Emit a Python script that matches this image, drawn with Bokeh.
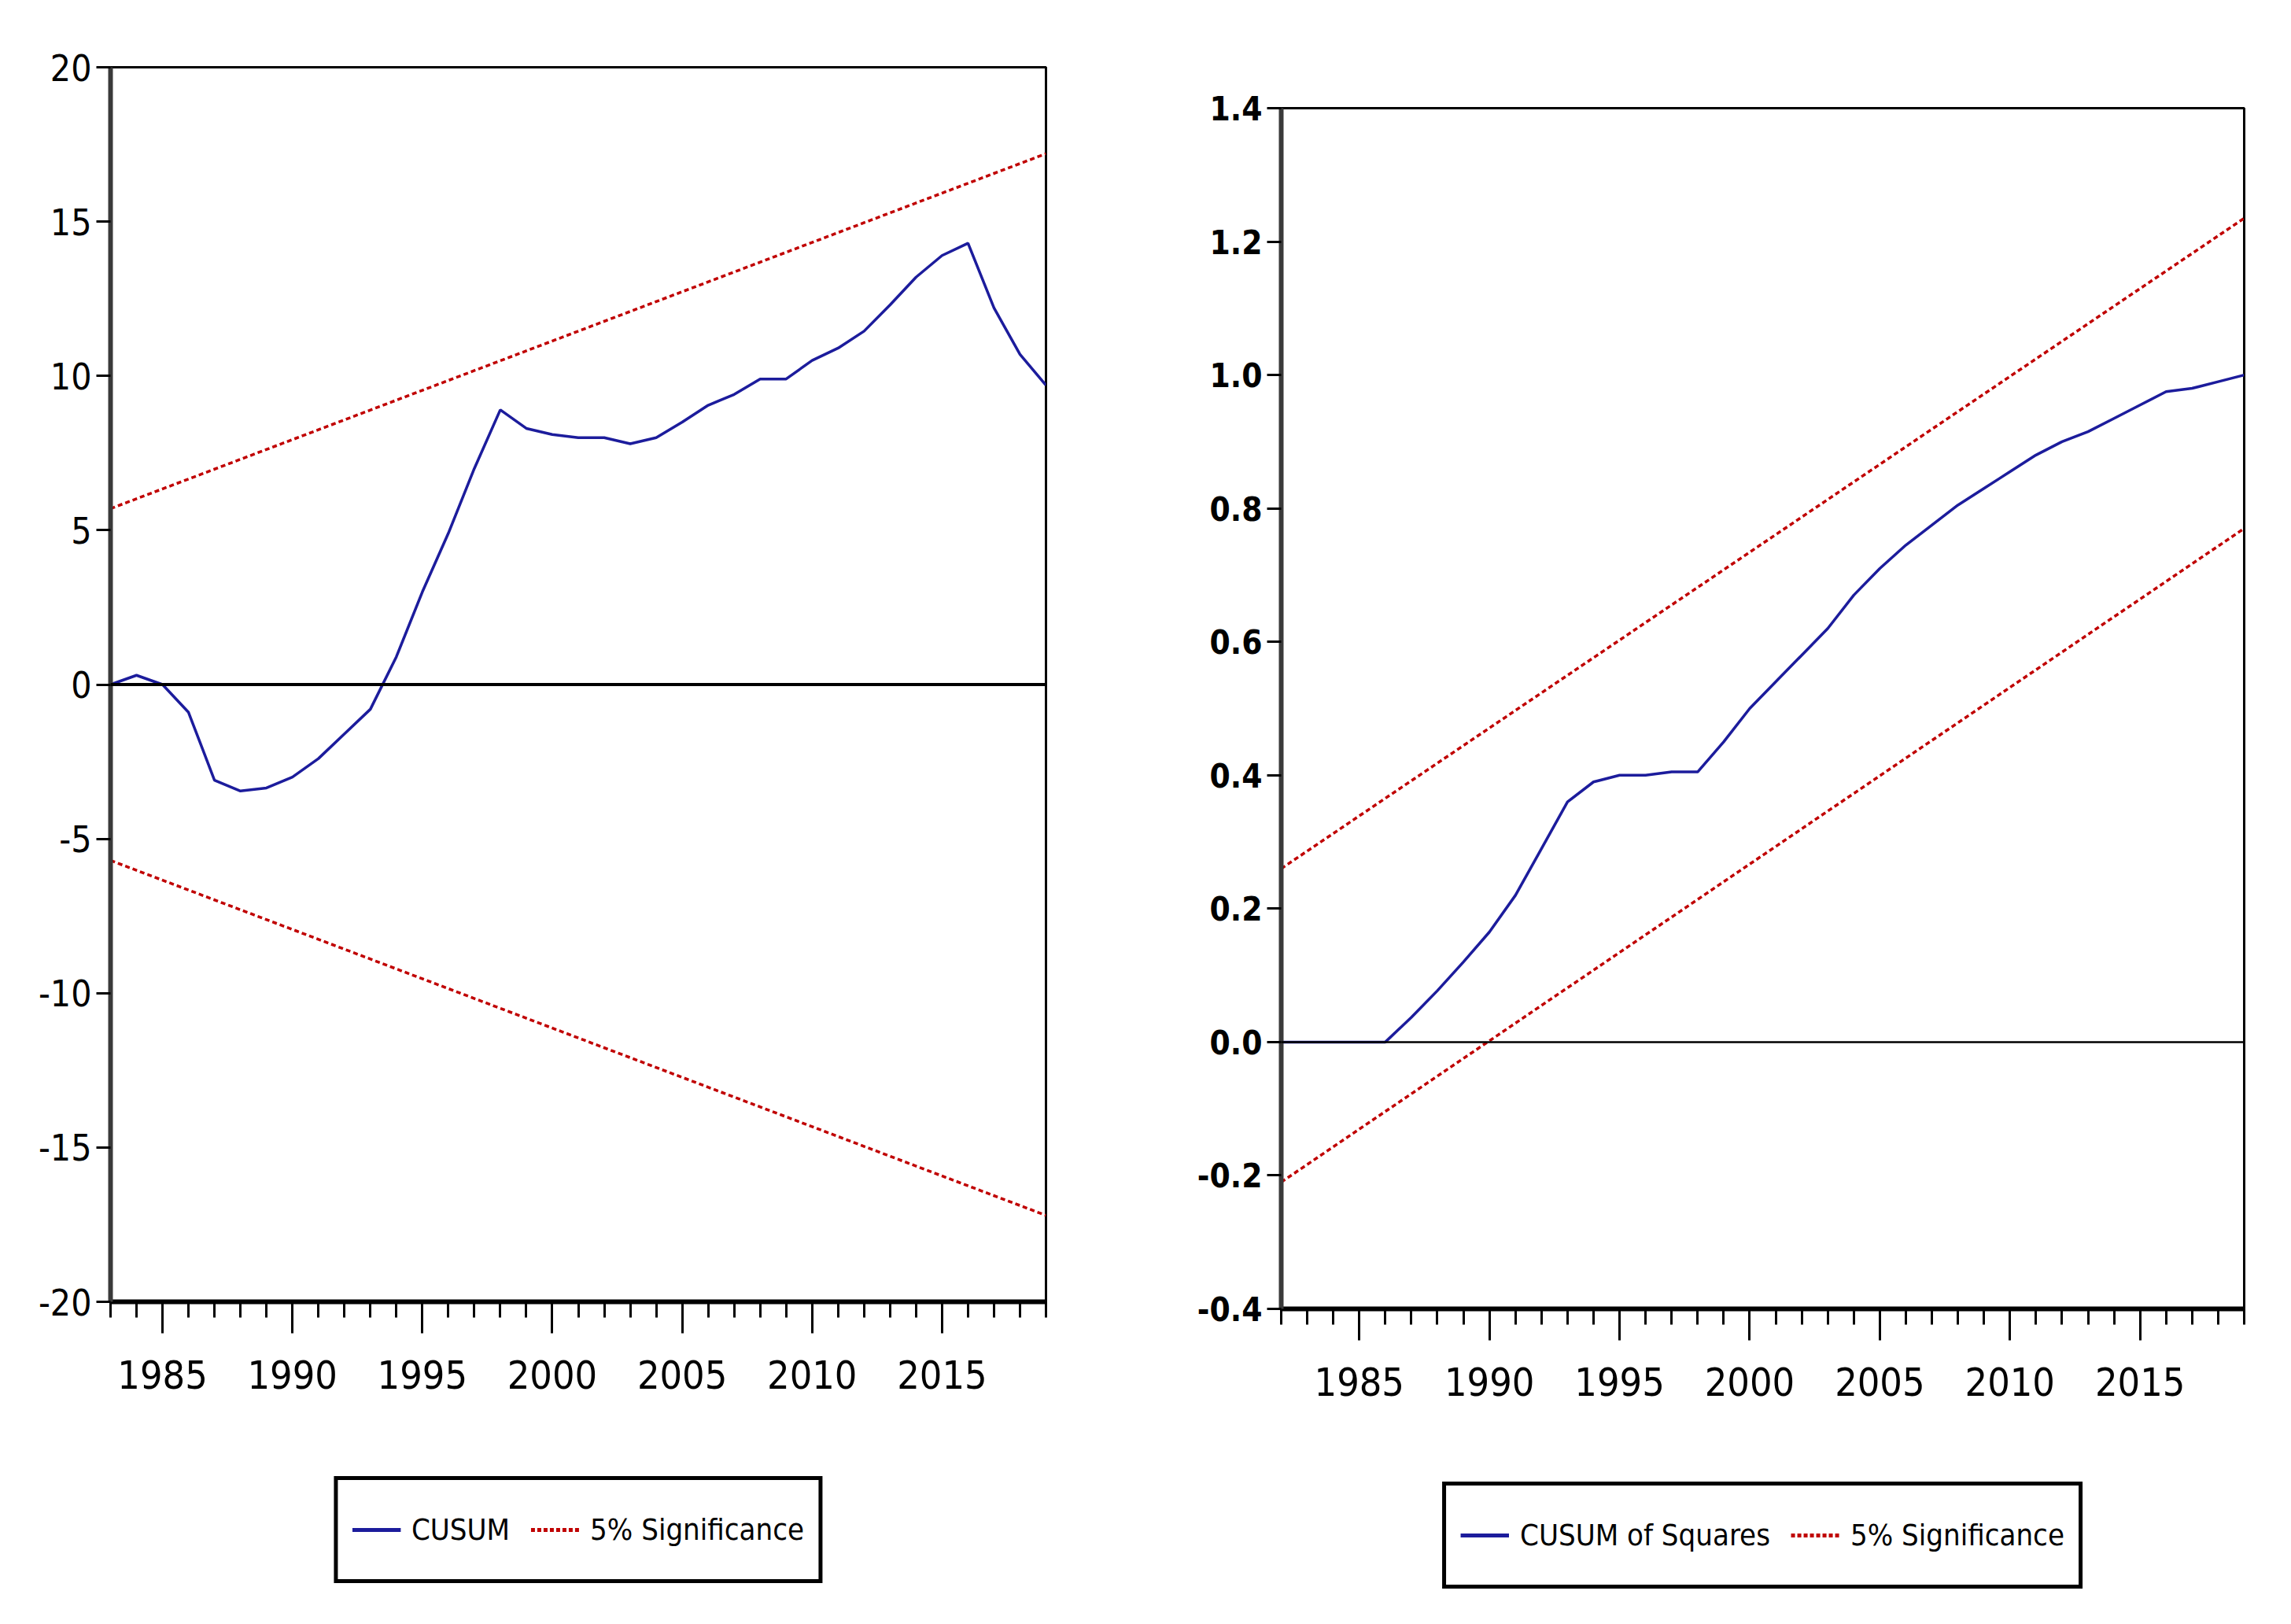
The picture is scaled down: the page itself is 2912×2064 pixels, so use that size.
from bokeh.plotting import figure
from bokeh.layouts import row, column
from bokeh.models import Range1d, FixedTicker, Span, Legend, LegendItem, PrintfTickFormatter, Spacer
from bokeh.embed import file_html
from bokeh.resources import INLINE

# ---------------- data ----------------
years_cusum = list(range(1983, 2020))
cusum = [0.0, 0.3, 0.0, -0.9, -3.1, -3.45, -3.35, -3.0, -2.4, -1.6, -0.8, 0.9,
         3.0, 4.9, 7.0, 8.9, 8.3, 8.1, 8.0, 8.0, 7.8, 8.0, 8.5, 9.05, 9.4, 9.9,
         9.9, 10.5, 10.9, 11.45, 12.3, 13.2, 13.9, 14.3, 12.2, 10.7, 9.7]
bound_years_cusum = [1983, 2019]
cusum_upper = [5.7, 17.2]
cusum_lower = [-5.7, -17.2]

years_sq = list(range(1982, 2020))
cusumsq = [0.0, 0.0, 0.0, 0.0, 0.0, 0.037, 0.077, 0.12, 0.165, 0.22, 0.29, 0.36,
           0.39, 0.40, 0.40, 0.405, 0.405, 0.45, 0.50, 0.54, 0.58, 0.62, 0.67,
           0.71, 0.745, 0.775, 0.805, 0.83, 0.855, 0.88, 0.90, 0.915, 0.935,
           0.955, 0.975, 0.98, 0.99, 1.0]
bound_years_sq = [1982, 2019]
sq_upper = [0.26, 1.235]
sq_lower = [-0.21, 0.77]

x_major = [1985, 1990, 1995, 2000, 2005, 2010, 2015]
y_ticks_cusum = [-20, -15, -10, -5, 0, 5, 10, 15, 20]
y_ticks_sq = [-0.4, -0.2, 0.0, 0.2, 0.4, 0.6, 0.8, 1.0, 1.2, 1.4]

BLUE = "#1c1c9c"
RED = "#c00000"
FONT = "Liberation Sans Narrow, DejaVu Sans Condensed, sans-serif"
DASH = "6 4"


def style(p, yticks, minor_years, yfmt, ylab_bold=False):
    p.xgrid.visible = False
    p.ygrid.visible = False
    p.outline_line_color = "black"
    p.outline_line_width = 3
    p.background_fill_color = "white"
    p.border_fill_color = "white"
    xa = p.xaxis[0]
    xa.ticker = FixedTicker(ticks=x_major, minor_ticks=minor_years)
    xa.axis_line_color = "black"
    xa.axis_line_width = 6
    xa.major_tick_out = 40
    xa.major_tick_in = 0
    xa.minor_tick_out = 20
    xa.minor_tick_in = 0
    xa.major_tick_line_width = 3
    xa.minor_tick_line_width = 3
    xa.major_tick_line_color = "black"
    xa.minor_tick_line_color = "black"
    xa.major_label_standoff = 34
    xa.major_label_text_font = FONT
    xa.major_label_text_font_size = "50px"
    xa.major_label_text_color = "black"
    xa.formatter = PrintfTickFormatter(format="%d")
    ya = p.yaxis[0]
    ya.ticker = FixedTicker(ticks=yticks)
    ya.formatter = PrintfTickFormatter(format=yfmt)
    ya.axis_line_color = "#3a3a3a"
    ya.axis_line_width = 6
    ya.major_tick_out = 18
    ya.major_tick_in = 0
    ya.minor_tick_out = 0
    ya.minor_tick_in = 0
    ya.major_tick_line_width = 3
    ya.major_tick_line_color = "black"
    ya.major_label_standoff = 6
    ya.major_label_text_font = FONT
    ya.major_label_text_color = "black"
    if ylab_bold:
        ya.major_label_text_font_style = "bold"
        ya.major_label_text_font_size = "42px"
    else:
        ya.major_label_text_font_size = "46px"


def legend_figure(width, height, items_spec):
    lf = figure(width=width, height=height, output_backend="svg", toolbar_location=None,
                x_range=Range1d(0, 1), y_range=Range1d(0, 1),
                x_axis_location=None, y_axis_location=None, min_border=0)
    lf.grid.visible = False
    lf.outline_line_color = None
    lf.background_fill_color = "white"
    lf.border_fill_color = "white"
    items = []
    for label, xs, ys, color, dash in items_spec:
        r = lf.line(xs, ys, line_color=color, line_width=5, line_dash=dash, visible=False)
        items.append(LegendItem(label=label, renderers=[r]))
    lg = Legend(items=items, location="center", orientation="horizontal")
    lg.margin = 0
    lg.border_line_color = "black"
    lg.border_line_alpha = 1.0
    lg.border_line_width = 5
    lg.background_fill_color = "white"
    lg.background_fill_alpha = 1.0
    lg.label_text_font = FONT
    lg.label_text_font_size = "38px"
    lg.label_text_color = "black"
    lg.glyph_width = 62
    lg.glyph_height = 90
    lg.label_height = 90
    lg.label_standoff = 14
    lg.spacing = 26
    lg.padding = 18
    lf.add_layout(lg, "center")
    return lf


# ---------------- left: CUSUM ----------------
p1 = figure(width=1452, height=1847, output_backend="svg", toolbar_location=None,
            x_range=Range1d(1983, 2019), y_range=Range1d(-20, 20),
            min_border_left=140, min_border_right=123, min_border_top=85, min_border_bottom=193)
style(p1, y_ticks_cusum, years_cusum, "%d")
p1.add_layout(Span(location=0, dimension="width", line_color="black", line_width=4))
p1.line(bound_years_cusum, cusum_upper, line_color=RED, line_width=3.5, line_dash=DASH)
p1.line(bound_years_cusum, cusum_lower, line_color=RED, line_width=3.5, line_dash=DASH)
p1.line(years_cusum, cusum, line_color=BLUE, line_width=3.5)
lf1 = legend_figure(1452, 193, [("CUSUM", years_cusum, cusum, BLUE, "solid"),
                                ("5% Significance", bound_years_cusum, cusum_upper, RED, "5 3")])

# ---------------- right: CUSUM of Squares ----------------
p2 = figure(width=1444, height=1810, output_backend="svg", toolbar_location=None,
            x_range=Range1d(1982, 2019), y_range=Range1d(-0.4, 1.4),
            min_border_left=176, min_border_right=44, min_border_top=85, min_border_bottom=199)
style(p2, y_ticks_sq, years_sq, "%.1f", ylab_bold=True)
p2.add_layout(Span(location=0, dimension="width", line_color="black", line_width=2.5))
p2.line(bound_years_sq, sq_upper, line_color=RED, line_width=3.5, line_dash=DASH)
p2.line(bound_years_sq, sq_lower, line_color=RED, line_width=3.5, line_dash=DASH)
p2.line(years_sq, cusumsq, line_color=BLUE, line_width=3.5)
lf2 = legend_figure(1444, 178, [("CUSUM of Squares", years_sq, cusumsq, BLUE, "solid"),
                                ("5% Significance", bound_years_sq, sq_upper, RED, "5 3")])

layout = row(column(p1, lf1), column(Spacer(width=1444, height=52), p2, lf2))
open("out.html", "w").write(file_html(layout, INLINE))
